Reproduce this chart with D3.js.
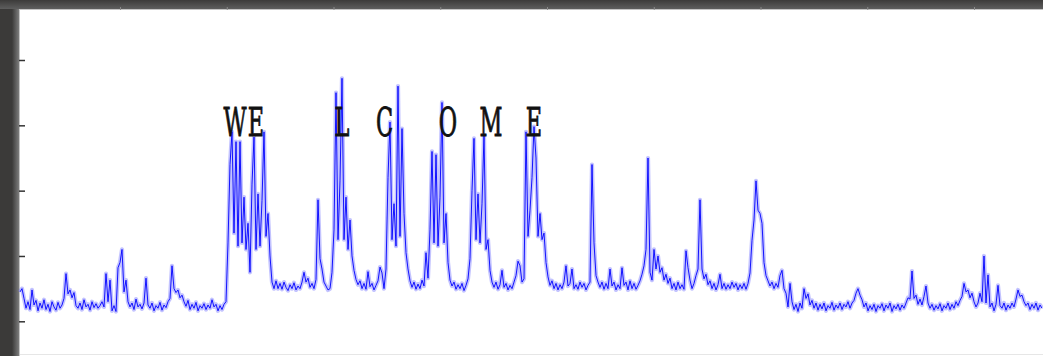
<!DOCTYPE html>
<html>
<head>
<meta charset="utf-8">
<script src="https://cdn.jsdelivr.net/npm/d3@7"></script>
<style>
  html, body { margin: 0; padding: 0; background: #3b3a39; overflow: hidden; }
  svg { display: block; }
</style>
</head>
<body>
<div id="chart"></div>
<script>
// signal samples, one every 2px of the original trace
const signal = [
  4.5, 5.0, 3.5, 2.0, 3.0, 1.8, 4.8, 2.5, 3.2, 1.6, 2.8, 2.0, 3.3, 1.8, 2.6, 1.5,
  3.0, 2.2, 1.7, 2.9, 2.0, 2.5, 3.5, 7.3, 4.2, 4.8, 3.6, 4.4, 2.4, 2.0, 2.8, 1.8,
  3.3, 2.2, 2.6, 1.7, 3.0, 2.1, 2.7, 2.0, 2.4, 3.0, 2.2, 7.3, 3.0, 6.3, 1.6, 2.4,
  1.5, 8.2, 9.0, 11.0, 4.5, 6.3, 3.0, 2.2, 2.8, 1.8, 3.4, 2.2, 2.6, 1.9, 2.8, 6.6,
  2.5, 2.0, 2.8, 1.6, 2.4, 2.0, 2.9, 1.7, 2.5, 2.1, 3.0, 3.5, 8.5, 5.0, 4.4, 4.8,
  3.6, 4.0, 3.0, 2.3, 3.2, 1.8, 2.6, 2.0, 2.9, 1.6, 2.4, 2.0, 2.7, 1.8, 2.5, 2.0,
  3.3, 2.2, 2.6, 1.6, 2.4, 1.8, 2.6, 3.0, 12.0, 24.0, 29.0, 13.5, 27.5, 11.5, 27.5, 12.0,
  19.0, 11.0, 15.0, 7.5, 21.0, 28.2, 11.0, 19.5, 11.5, 18.5, 29.0, 13.0, 16.5, 10.0, 6.0, 5.0,
  6.2, 5.0, 5.8, 4.9, 6.0, 5.2, 4.7, 5.6, 5.0, 5.9, 4.8, 5.4, 5.0, 6.0, 7.5, 6.0,
  6.6, 5.2, 5.8, 5.0, 6.4, 18.6, 9.6, 8.0, 6.0, 5.4, 4.8, 5.0, 7.5, 14.0, 35.0, 12.5,
  21.5, 37.2, 12.5, 19.0, 11.0, 15.5, 10.0, 7.8, 6.4, 5.6, 6.2, 5.0, 5.8, 4.9, 7.6, 5.3,
  5.8, 4.8, 5.5, 6.2, 8.3, 7.4, 5.0, 8.0, 22.0, 30.5, 12.5, 18.0, 11.5, 36.0, 13.0, 29.5,
  16.5, 10.5, 8.0, 6.2, 5.2, 6.0, 4.9, 5.7, 5.0, 6.3, 5.4, 10.5, 6.6, 14.0, 26.0, 12.0,
  25.5, 11.5, 19.0, 33.5, 12.0, 16.5, 9.0, 6.3, 5.4, 6.0, 4.9, 5.6, 5.0, 5.8, 4.7, 5.5,
  6.5, 9.6, 20.0, 28.0, 12.5, 19.5, 12.0, 18.0, 28.5, 11.0, 12.5, 7.8, 6.0, 5.2, 6.0, 4.9,
  5.6, 7.8, 5.2, 5.8, 4.8, 5.5, 5.0, 6.0, 7.0, 9.2, 8.5, 6.0, 6.5, 29.0, 13.0, 17.0,
  22.0, 29.8, 25.0, 13.0, 16.5, 12.5, 13.5, 9.0, 6.8, 5.5, 6.2, 5.0, 5.8, 4.8, 5.6, 5.0,
  6.0, 8.5, 5.4, 5.8, 8.0, 5.0, 5.6, 4.9, 6.0, 5.2, 5.8, 4.8, 5.5, 6.0, 24.0, 12.0,
  7.0, 6.0, 5.2, 6.0, 4.9, 5.8, 5.0, 8.0, 5.4, 6.0, 4.8, 5.6, 5.0, 8.2, 5.5, 6.0,
  4.8, 6.2, 5.0, 5.8, 4.9, 5.5, 6.2, 7.2, 8.5, 11.0, 25.0, 7.5, 6.3, 11.0, 8.0, 10.0,
  7.5, 8.2, 6.3, 7.2, 5.8, 6.6, 5.0, 5.8, 4.8, 6.0, 5.0, 5.6, 4.9, 10.8, 8.2, 6.3,
  5.0, 5.8, 7.0, 8.0, 18.6, 8.0, 6.5, 7.2, 5.6, 6.2, 5.0, 5.8, 4.8, 5.6, 7.2, 5.0,
  5.8, 4.9, 5.6, 5.0, 6.0, 5.2, 5.8, 4.8, 5.6, 5.0, 5.8, 4.9, 5.8, 7.4, 12.4, 15.5,
  21.5, 17.0, 16.5, 15.0, 9.0, 7.0, 6.2, 5.4, 6.0, 5.0, 5.8, 5.2, 7.0, 7.8, 5.0, 4.3,
  2.2, 5.8, 3.0, 1.8, 2.6, 1.5, 2.8, 2.0, 5.0, 3.5, 4.2, 2.5, 3.2, 2.0, 2.8, 1.7,
  2.6, 1.9, 2.8, 1.6, 2.4, 2.0, 2.9, 1.7, 2.5, 2.0, 2.8, 1.8, 2.6, 2.2, 3.0, 2.0,
  2.8, 3.2, 4.3, 5.0, 4.0, 3.3, 2.2, 2.8, 1.6, 2.4, 1.8, 2.6, 1.5, 2.4, 2.0, 2.7,
  1.6, 2.5, 2.0, 2.8, 1.5, 2.4, 1.9, 2.6, 1.7, 2.5, 2.0, 2.8, 3.6, 3.4, 7.7, 3.5,
  4.0, 2.6, 3.4, 2.5, 3.8, 5.4, 2.8, 2.0, 2.6, 1.7, 2.4, 1.9, 2.7, 1.6, 2.4, 2.0,
  2.8, 1.8, 2.6, 2.0, 3.0, 2.4, 3.2, 3.8, 5.8, 4.5, 4.8, 3.6, 4.3, 3.0, 2.2, 2.8,
  4.3, 3.0, 10.0, 2.8, 7.1, 2.2, 2.8, 1.6, 2.6, 5.5, 2.4, 2.0, 2.8, 1.7, 2.5, 2.0,
  2.8, 2.2, 3.4, 4.8, 3.8, 4.0, 3.0, 2.4, 2.8, 1.8, 2.6, 2.0, 2.8, 1.7, 2.5, 2.0
];
const yTicks = [0, 10, 20, 30, 40];
const xTicks = [50, 103.375, 156.75, 210.125, 263.5, 316.875, 370.25, 423.625, 477];
// annotation letters, placed at sample index
const letters = ['W', 'E', 'L', 'C', 'O', 'M', 'E'];
const letterAt = [107.5, 118, 161, 182.25, 214, 235.5, 257];
const letterLevel = 28.4;

const width = 1043;
const height = 356;
const plot = { l: 20, t: 10, r: 1043, b: 356 };

const svg = d3.select('#chart').append('svg')
  .attr('width', width)
  .attr('height', height);

// window frame
const defs = svg.append('defs');
const topGrad = defs.append('linearGradient')
  .attr('id', 'topGrad').attr('x1', 0).attr('y1', 0).attr('x2', 0).attr('y2', 1);
topGrad.append('stop').attr('offset', '0%').attr('stop-color', '#3c3b3a');
topGrad.append('stop').attr('offset', '100%').attr('stop-color', '#5e5e5e');
const leftGrad = defs.append('linearGradient')
  .attr('id', 'leftGrad').attr('x1', 0).attr('y1', 0).attr('x2', 1).attr('y2', 0);
leftGrad.append('stop').attr('offset', '0%').attr('stop-color', '#3b3a39');
leftGrad.append('stop').attr('offset', '100%').attr('stop-color', '#7c7c7c');

svg.append('rect')
  .attr('width', width).attr('height', height)
  .attr('fill', '#3b3a39');
svg.append('rect')
  .attr('x', 0).attr('y', 0).attr('width', width).attr('height', plot.t - 1)
  .attr('fill', 'url(#topGrad)');
svg.append('rect')
  .attr('x', 12).attr('y', plot.t - 1).attr('width', plot.l - 13).attr('height', height)
  .attr('fill', 'url(#leftGrad)');
svg.append('rect')
  .attr('x', plot.l - 1).attr('y', plot.t - 1)
  .attr('width', width).attr('height', height)
  .attr('fill', '#c4c4c4');
svg.append('rect')
  .attr('x', plot.l).attr('y', plot.t)
  .attr('width', plot.r - plot.l).attr('height', plot.b - plot.t)
  .attr('fill', '#fff');
svg.append('line')
  .attr('x1', plot.l).attr('x2', plot.r)
  .attr('y1', plot.b - 1.5).attr('y2', plot.b - 1.5)
  .attr('stroke', '#e6e6e6').attr('stroke-width', 1);

// scales
const x = d3.scaleLinear()
  .domain([0, signal.length - 1])
  .range([20, 1042]);
const y = d3.scaleLinear()
  .domain([0, 40])
  .range([321.3, 60]);

// y ticks (no labels)
svg.append('g')
  .attr('transform', `translate(${plot.l - 1},0)`)
  .call(d3.axisLeft(y).tickValues(yTicks).tickSize(-6).tickFormat(''))
  .call((g) => g.select('.domain').remove())
  .selectAll('line')
    .attr('stroke', '#333')
    .attr('stroke-width', 1.5);

// faint x ticks along the top edge
svg.append('g')
  .attr('transform', `translate(0,${plot.t - 3})`)
  .call(d3.axisBottom(x).tickValues(xTicks).tickSize(3).tickFormat(''))
  .call((g) => g.select('.domain').remove())
  .selectAll('line')
    .attr('stroke', '#8a8a8a');

// trace: soft halo + core line
const line = d3.line()
  .x((d, i) => x(i))
  .y((d) => y(d));
const traces = svg.append('g');
traces.append('path')
  .datum(signal)
  .attr('fill', 'none')
  .attr('stroke', '#6a6aff')
  .attr('stroke-opacity', 0.4)
  .attr('stroke-width', 4.2)
  .attr('stroke-linejoin', 'round')
  .attr('d', line);
traces.append('path')
  .datum(signal)
  .attr('fill', 'none')
  .attr('stroke', '#0000ff')
  .attr('stroke-opacity', 0.9)
  .attr('stroke-width', 1)
  .attr('d', line);

// WELCOME letters
svg.append('g')
  .selectAll('text')
  .data(letters)
  .join('text')
    .attr('transform', (d, i) => `translate(${x(letterAt[i])},${y(letterLevel)}) scale(0.56,1)`)
    .attr('text-anchor', 'middle')
    .attr('font-family', '"DejaVu Serif", serif')
    .attr('font-size', 40)
    .attr('fill', '#111')
    .attr('stroke', '#111')
    .attr('stroke-width', 0.9)
    .text((d) => d);
</script>
</body>
</html>
